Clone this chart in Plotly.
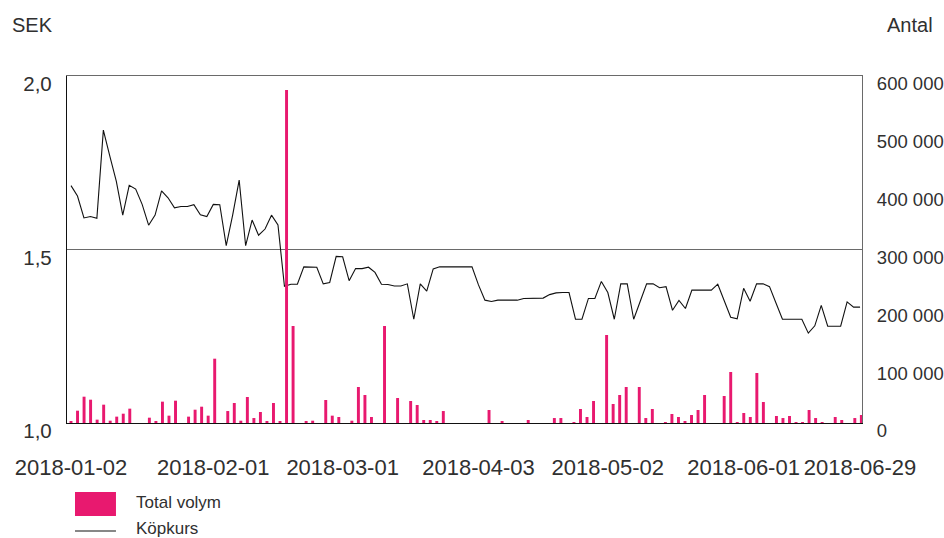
import plotly.graph_objects as go

# Trading days (categories), Jan-Jun 2018
jan = [2, 3, 4, 5, 8, 9, 10, 11, 12, 15, 16, 17, 18, 19, 22, 23, 24, 25, 26, 29, 30, 31]
feb = [1, 2, 5, 6, 7, 8, 9, 12, 13, 14, 15, 16, 19, 20, 21, 22, 23, 26, 27, 28]
mar = [1, 2, 5, 6, 7, 8, 9, 12, 13, 14, 15, 16, 19, 20, 21, 22, 23, 26, 27, 28, 29]
apr = [3, 4, 5, 6, 9, 10, 11, 12, 13, 16, 17, 18, 19, 20, 23, 24, 25, 26, 27, 30]
may = [2, 3, 4, 7, 8, 9, 11, 14, 15, 16, 17, 18, 21, 22, 23, 24, 25, 28, 29, 30, 31]
jun = [1, 4, 5, 7, 8, 11, 12, 13, 14, 15, 18, 19, 20, 21, 25, 26, 27, 28, 29]
month_days = [(1, jan), (2, feb), (3, mar), (4, apr), (5, may), (6, jun)]
dates = [f"2018-{m:02d}-{d:02d}" for m, days in month_days for d in days]

# Köpkurs (SEK)
kopkurs = [
    1.684, 1.654, 1.591, 1.595, 1.590, 1.844, 1.769, 1.697, 1.599, 1.685,
    1.674, 1.630, 1.570, 1.599, 1.669, 1.649, 1.620, 1.624, 1.624, 1.629,
    1.600, 1.595, 1.630, 1.629, 1.511, 1.600, 1.700, 1.511, 1.585, 1.541,
    1.559, 1.599, 1.571, 1.394, 1.400, 1.400, 1.450, 1.450, 1.449, 1.401,
    1.405, 1.480, 1.479, 1.410, 1.445, 1.445, 1.449, 1.434, 1.400, 1.399,
    1.395, 1.395, 1.401, 1.299, 1.401, 1.380, 1.444, 1.450, 1.450, 1.450,
    1.450, 1.450, 1.450, 1.398, 1.354, 1.350, 1.354, 1.354, 1.354, 1.354,
    1.359, 1.359, 1.359, 1.360, 1.370, 1.375, 1.376, 1.376, 1.299, 1.299,
    1.359, 1.359, 1.408, 1.376, 1.299, 1.401, 1.401, 1.299, 1.350, 1.401,
    1.401, 1.390, 1.393, 1.325, 1.353, 1.330, 1.383, 1.383, 1.383, 1.383,
    1.400, 1.354, 1.305, 1.300, 1.388, 1.351, 1.401, 1.401, 1.393, 1.346,
    1.299, 1.299, 1.299, 1.299, 1.259, 1.280, 1.339, 1.279, 1.279, 1.279,
    1.349, 1.334, 1.334,
]

# Total volym (Antal)
volym = [
    2300, 21300, 45500, 40300, 5800, 31700, 4000, 11000, 16100, 24800,
    0, 0, 9200, 2300, 36900, 12700, 38600, 0, 11000, 23000,
    28200, 12700, 111200, 0, 20700, 34600, 4000, 45000, 8600, 19000,
    2300, 34600, 2300, 576000, 167700, 0, 2300, 4000, 0, 39800,
    12700, 10400, 0, 4000, 62300, 48400, 10400, 0, 167700, 0,
    43200, 0, 38000, 31100, 5200, 5200, 3500, 20700, 0, 0,
    0, 0, 0, 0, 22500, 0, 3500, 0, 0, 0,
    5200, 0, 0, 0, 8600, 8600, 0, 1700, 24200, 10400,
    38000, 0, 152200, 32900, 48400, 62300, 0, 62300, 8600, 24200,
    0, 1700, 15600, 10400, 3500, 13800, 22500, 48400, 0, 0,
    46700, 88200, 1700, 17300, 10400, 86500, 36300, 0, 12100, 8600,
    12100, 1700, 1700, 22500, 8600, 1700, 0, 10400, 5200, 0,
    8600, 13800, None,
]

x_ticks = ["2018-01-02", "2018-02-01", "2018-03-01", "2018-04-03",
           "2018-05-02", "2018-06-01", "2018-06-29"]
left_vals = [1.0, 1.5, 2.0]
left_text = ["1,0", "1,5", "2,0"]
right_vals = [0, 100000, 200000, 300000, 400000, 500000, 600000]
right_text = ["0", "100 000", "200 000", "300 000", "400 000", "500 000", "600 000"]

PINK = "#e8196f"
TXT = "#303030"
GRAY = "#6a6a6a"
FONT = "Liberation Sans, Arial, sans-serif"

fig = go.Figure()
fig.add_trace(go.Scatter(
    x=dates, y=kopkurs, mode="lines", name="Köpkurs",
    line=dict(color="#111111", width=1.1), xaxis="x", yaxis="y",
    showlegend=False,
))
fig.add_trace(go.Bar(
    x=dates, y=volym, name="Total volym", marker=dict(color=PINK, line_width=0),
    width=0.45, xaxis="x2", yaxis="y2", showlegend=False,
))

fig.update_layout(
    width=944, height=538,
    margin=dict(l=67, r=82, t=76, b=115),
    paper_bgcolor="white", plot_bgcolor="white",
    font=dict(family=FONT, color=TXT, size=18),
    xaxis=dict(
        type="category", range=[-0.62, 122.3], automargin=False,
        tickmode="array", tickvals=x_ticks, ticktext=x_ticks,
        showgrid=False, zeroline=False, ticks="",
        showline=True, linecolor="#111111", linewidth=1.3,
        tickfont=dict(size=22, color=TXT), ticklabelstandoff=24,
    ),
    xaxis2=dict(
        type="category", range=[-0.612, 121.1], overlaying="x", side="top",
        automargin=False,
        showticklabels=False, showgrid=False, zeroline=False, ticks="",
        showline=True, linecolor=GRAY, linewidth=1.3,
    ),
    yaxis=dict(
        range=[1.0, 2.0], tickmode="array", tickvals=left_vals, ticktext=left_text,
        automargin=False,
        showgrid=True, gridcolor=GRAY, gridwidth=1.3, zeroline=False, ticks="",
        showline=True, linecolor="#111111", linewidth=1.3,
        tickfont=dict(size=20.5, color=TXT), ticklabelstandoff=10, ticklabelshift=8,
    ),
    yaxis2=dict(
        range=[0, 600000], overlaying="y", side="right", automargin=False,
        tickmode="array", tickvals=right_vals, ticktext=right_text,
        showgrid=False, zeroline=False, ticks="",
        showline=True, linecolor=GRAY, linewidth=1.3,
        tickfont=dict(size=18.5, color=TXT), ticklabelstandoff=10, ticklabelshift=8,
    ),
    bargap=0.5,
)

# axis titles
fig.add_annotation(text="SEK", xref="paper", yref="paper", x=-0.0717, y=1.147,
                   xanchor="left", yanchor="middle", showarrow=False,
                   font=dict(size=20, color=TXT))
fig.add_annotation(text="Antal", xref="paper", yref="paper", x=1.0918, y=1.147,
                   xanchor="right", yanchor="middle", showarrow=False,
                   font=dict(size=20, color=TXT))

# custom legend
fig.add_shape(type="rect", xref="paper", yref="paper",
              x0=0.01006, x1=0.0616, y0=-0.268, y1=-0.1988,
              fillcolor=PINK, line=dict(width=0))
fig.add_shape(type="line", xref="paper", yref="paper",
              x0=0.01006, x1=0.0616, y0=-0.3112, y1=-0.3112,
              line=dict(color="#111111", width=1.2))
fig.add_annotation(text="Total volym", xref="paper", yref="paper", x=0.0843, y=-0.2305,
                   xanchor="left", yanchor="middle", showarrow=False,
                   font=dict(size=17, color=TXT))
fig.add_annotation(text="Köpkurs", xref="paper", yref="paper", x=0.0843, y=-0.3040,
                   xanchor="left", yanchor="middle", showarrow=False,
                   font=dict(size=17, color=TXT))

fig.write_html("out.html", config={"displayModeBar": False},
               post_script="document.body.style.margin='0px';")
